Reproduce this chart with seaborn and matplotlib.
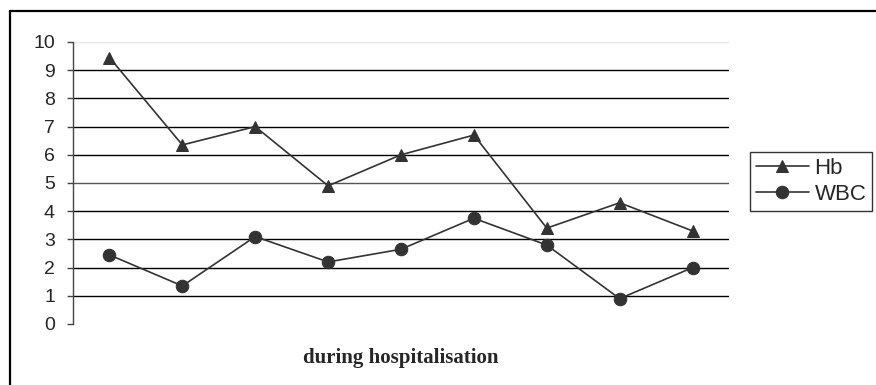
import pandas as pd
import matplotlib.pyplot as plt
import seaborn as sns
from matplotlib.lines import Line2D

# Values (9 time points during hospitalisation)
days = [1, 2, 3, 4, 5, 6, 7, 8, 9]
hb = [9.45, 6.35, 7.0, 4.9, 6.0, 6.7, 3.4, 4.3, 3.3]
wbc = [2.45, 1.35, 3.1, 2.2, 2.65, 3.75, 2.8, 0.9, 2.0]
y_ticks = [0, 1, 2, 3, 4, 5, 6, 7, 8, 9, 10]

df = pd.DataFrame({
    'day': days * 2,
    'value': hb + wbc,
    'series': ['Hb'] * len(days) + ['WBC'] * len(days),
})

sns.set_style('white')
plt.rcParams['font.family'] = ['Liberation Sans', 'DejaVu Sans']

fig = plt.figure(figsize=(8.76, 3.85), dpi=100)
ax = fig.add_axes([73 / 876, 1 - 324 / 385, (729 - 73) / 876, (324 - 42) / 385])

# outer frame: only the left and top edges show in the reference
fx, fy = 10 / 876, 1 - 11 / 385
fig.add_artist(Line2D([fx, fx], [0, fy], transform=fig.transFigure,
                      color='black', linewidth=1.6))
fig.add_artist(Line2D([fx, 1], [fy, fy], transform=fig.transFigure,
                      color='black', linewidth=1.6))

color = '#333333'
sns.lineplot(data=df, x='day', y='value', style='series',
             markers={'Hb': '^', 'WBC': 'o'}, dashes=False,
             color=color, markersize=9, markeredgecolor=color,
             linewidth=1.2, ax=ax, legend=True)

ax.set_xlim(days[0] - 0.5, days[-1] + 0.5)
ax.set_ylim(y_ticks[0], y_ticks[-1])
ax.set_yticks(y_ticks)
ax.set_xticks([])

# horizontal gridlines
for v in y_ticks[1:-1]:
    ax.axhline(v, color='#555555' if v == 5 else 'black', linewidth=1, zorder=0)
ax.axhline(y_ticks[-1], color='#e6e6e6', linewidth=1, zorder=0)

for s in ['top', 'right', 'bottom']:
    ax.spines[s].set_visible(False)
ax.spines['left'].set_color('#444444')
ax.spines['left'].set_linewidth(1)
ax.tick_params(axis='y', direction='out', length=4, width=1, color='#444444',
               labelsize=14, pad=9, left=True)

ax.set_ylabel('')
ax.set_xlabel('during hospitalisation', fontsize=15, fontweight='bold',
              family=['Liberation Serif', 'DejaVu Serif'], labelpad=17)

leg = ax.legend(loc='upper left', bbox_to_anchor=(750 / 876, 1 - 152 / 385),
                bbox_transform=fig.transFigure, frameon=True, fancybox=False,
                edgecolor='black', fontsize=16, handlelength=2.4,
                handletextpad=0.25, borderpad=0.25, labelspacing=0.25,
                borderaxespad=0)
leg.get_frame().set_linewidth(1)

fig.savefig('out.png', dpi=100)
